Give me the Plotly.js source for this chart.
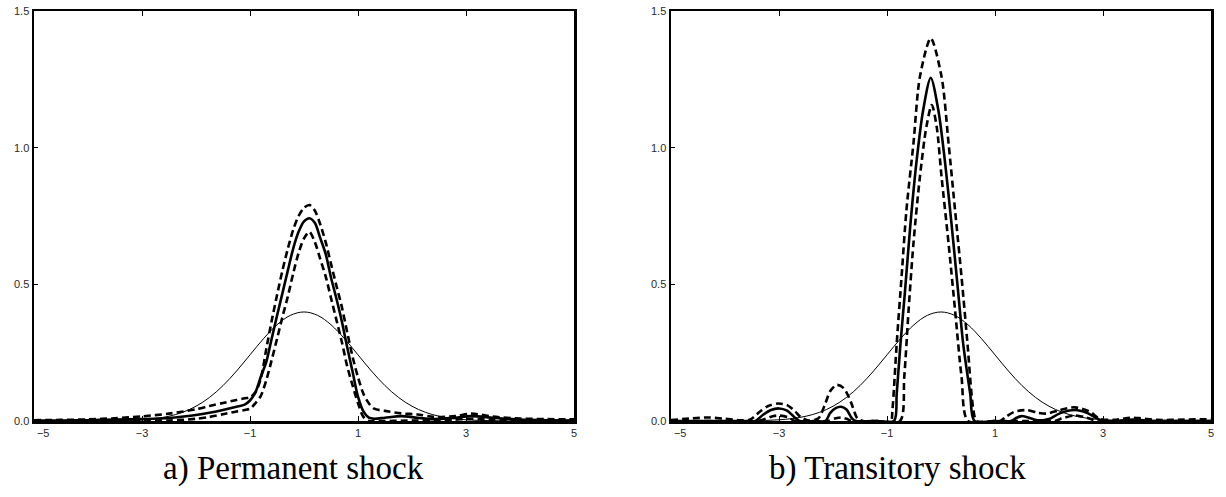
<!DOCTYPE html>
<html>
<head>
<meta charset="utf-8">
<script src="https://cdn.plot.ly/plotly-3.0.1.min.js"></script>
<style>
  html, body { margin: 0; padding: 0; background: #fff; }
  #chart { width: 1226px; height: 497px; }
</style>
</head>
<body>
<div id="chart"></div>
<script>
// ---------- data ----------
// thin reference curve (standard normal density), same in both panels
const normX = [-5, -4.5, -4, -3.75, -3.5, -3.25, -3, -2.75, -2.5, -2.25, -2, -1.75, -1.5, -1.25, -1, -0.75, -0.5, -0.25, 0, 0.25, 0.5, 0.75, 1, 1.25, 1.5, 1.75, 2, 2.25, 2.5, 2.75, 3, 3.25, 3.5, 3.75, 4, 4.5, 5];
const normY = [0.0000, 0.0000, 0.0001, 0.0004, 0.0009, 0.0020, 0.0044, 0.0091, 0.0175, 0.0317, 0.0540, 0.0863, 0.1295, 0.1826, 0.2420, 0.3011, 0.3521, 0.3867, 0.3989, 0.3867, 0.3521, 0.3011, 0.2420, 0.1826, 0.1295, 0.0863, 0.0540, 0.0317, 0.0175, 0.0091, 0.0044, 0.0020, 0.0009, 0.0004, 0.0001, 0.0000, 0.0000];

// a) Permanent shock
const permX = [-5, -4.5, -4, -3.5, -3, -2.5, -2, -1.75, -1.5, -1.25, -1.1, -1.0, -0.9, -0.8, -0.7, -0.6, -0.5, -0.4, -0.3, -0.2, -0.1, 0, 0.1, 0.2, 0.3, 0.4, 0.5, 0.6, 0.7, 0.8, 0.9, 1.0, 1.1, 1.2, 1.3, 1.5, 1.8, 2.1, 2.4, 2.8, 3.1, 3.5, 4, 4.5, 5];
const permMid = [0.002, 0.002, 0.003, 0.005, 0.007, 0.011, 0.022, 0.030, 0.040, 0.052, 0.060, 0.075, 0.105, 0.162, 0.215, 0.300, 0.385, 0.467, 0.550, 0.631, 0.692, 0.730, 0.742, 0.725, 0.670, 0.612, 0.525, 0.448, 0.365, 0.270, 0.180, 0.089, 0.035, 0.012, 0.008, 0.012, 0.018, 0.012, 0.007, 0.012, 0.018, 0.012, 0.005, 0.003, 0.002];
const permHigh = [0.003, 0.004, 0.006, 0.010, 0.017, 0.027, 0.043, 0.055, 0.066, 0.077, 0.083, 0.087, 0.105, 0.155, 0.262, 0.365, 0.460, 0.550, 0.630, 0.700, 0.750, 0.780, 0.790, 0.770, 0.720, 0.655, 0.575, 0.495, 0.418, 0.325, 0.235, 0.160, 0.100, 0.065, 0.045, 0.037, 0.028, 0.024, 0.015, 0.018, 0.027, 0.016, 0.009, 0.007, 0.006];
const permLow = [0.000, 0.000, 0.000, 0.000, 0.001, 0.002, 0.008, 0.015, 0.025, 0.035, 0.040, 0.045, 0.065, 0.092, 0.148, 0.222, 0.300, 0.380, 0.455, 0.540, 0.615, 0.668, 0.692, 0.655, 0.593, 0.530, 0.450, 0.370, 0.290, 0.200, 0.130, 0.065, 0.015, 0.000, 0.000, 0.000, 0.001, 0.002, 0.002, 0.005, 0.008, 0.004, 0.001, 0.000, 0.000];

// b) Transitory shock
const transMidX = [-5, -4, -3.6, -3.44, -3.3, -3.15, -3.0, -2.85, -2.72, -2.62, -2.3, -2.14, -2.05, -1.95, -1.85, -1.75, -1.65, -1.58, -1.2, -0.87, -0.82, -0.75, -0.67, -0.57, -0.45, -0.33, -0.19, -0.05, 0.07, 0.2, 0.32, 0.41, 0.54, 0.62, 1.0, 1.3, 1.4, 1.49, 1.6, 1.78, 1.9, 2.0, 2.2, 2.48, 2.7, 2.94, 3.2, 3.56, 3.9, 4.5, 5];
const transMid = [0, 0, 0, 0, 0.022, 0.040, 0.046, 0.038, 0.015, 0, 0, 0, 0.030, 0.047, 0.052, 0.042, 0.010, 0, 0, 0, 0.101, 0.284, 0.467, 0.711, 0.955, 1.138, 1.256, 1.138, 0.955, 0.711, 0.467, 0.284, 0.101, 0, 0, 0, 0.012, 0.018, 0.014, 0.003, 0.003, 0.007, 0.028, 0.040, 0.030, 0.005, 0, 0.005, 0, 0, 0];
const transHighX = [-5, -4.6, -4.3, -4.0, -3.7, -3.54, -3.35, -3.2, -3.01, -2.85, -2.7, -2.6, -2.45, -2.27, -2.15, -2.05, -1.93, -1.8, -1.67, -1.55, -1.45, -1.2, -0.93, -0.9, -0.82, -0.73, -0.64, -0.51, -0.39, -0.19, 0.01, 0.14, 0.26, 0.38, 0.49, 0.6, 0.66, 1.0, 1.1, 1.2, 1.35, 1.59, 1.8, 1.96, 2.2, 2.48, 2.75, 2.94, 3.2, 3.5, 3.7, 4.0, 4.5, 5];
const transHigh = [0.003, 0.010, 0.013, 0.008, 0.003, 0.005, 0.035, 0.055, 0.064, 0.058, 0.035, 0.015, 0.002, 0.010, 0.060, 0.110, 0.132, 0.120, 0.070, 0.010, 0, 0, 0, 0.040, 0.284, 0.528, 0.772, 1.016, 1.260, 1.400, 1.260, 1.016, 0.772, 0.528, 0.284, 0.040, 0, 0, 0, 0.015, 0.033, 0.040, 0.030, 0.027, 0.040, 0.050, 0.035, 0.008, 0.004, 0.012, 0.010, 0.004, 0.005, 0.007];
const transLowX = [-5, -4, -3.4, -3.3, -3.1, -3.0, -2.85, -2.7, -2.3, -2.1, -1.95, -1.85, -1.75, -1.65, -1.2, -0.76, -0.68, -0.6, -0.51, -0.39, -0.27, -0.17, -0.08, 0.01, 0.14, 0.26, 0.38, 0.5, 1.0, 1.8, 2.1, 2.25, 2.48, 2.7, 2.9, 3.5, 4.5, 5];
const transLow = [0, 0, 0, 0.005, 0.018, 0.020, 0.015, 0, 0, 0, 0.010, 0.013, 0.008, 0, 0, 0, 0.162, 0.406, 0.650, 0.894, 1.077, 1.156, 1.077, 0.894, 0.650, 0.406, 0.162, 0, 0, 0, 0, 0.010, 0.020, 0.012, 0, 0, 0, 0];

// axis ticks (the first x label sits a little right of its tick in the reference)
const xTicks = [-5, -3, -1, 1, 3, 5];
const xTickText = ['\u2007\u2007\u2007\u22125', '\u22123', '\u22121', '1', '3', '5'];
const yTicks = [0, 0.5, 1.0, 1.5];
const yTickText = ['0.0', '0.5', '1.0', '1.5'];
const panelTitles = ['a) Permanent shock', 'b) Transitory shock'];

// ---------- styles ----------
const thin = {color: '#000', width: 1, shape: 'spline', smoothing: 1};
const thick = {color: '#000', width: 2.6, shape: 'spline', smoothing: 0.8};
const dashed = {color: '#000', width: 2.6, shape: 'spline', smoothing: 0.8, dash: '7px,4px'};

function tr(x, y, line, ax) {
  return {x: x, y: y, type: 'scatter', mode: 'lines', line: line,
          xaxis: ax[0], yaxis: ax[1], hoverinfo: 'skip', showlegend: false};
}

const data = [
  tr(normX, normY, thin, ['x', 'y']),
  tr(permX, permHigh, dashed, ['x', 'y']),
  tr(permX, permLow, dashed, ['x', 'y']),
  tr(permX, permMid, thick, ['x', 'y']),
  tr(normX, normY, thin, ['x2', 'y2']),
  tr(transHighX, transHigh, dashed, ['x2', 'y2']),
  tr(transLowX, transLow, dashed, ['x2', 'y2']),
  tr(transMidX, transMid, thick, ['x2', 'y2'])
];

const W = 1226;
const tickFont = {family: 'Liberation Sans, Arial, sans-serif', size: 11, color: '#2a2a2a'};
function xa(domain) {
  return {
    domain: domain, range: [-5, 5], tickmode: 'array', tickvals: xTicks, ticktext: xTickText,
    ticks: 'inside', ticklen: 5, tickwidth: 1, tickcolor: '#000',
    showline: true, linewidth: 2.5, linecolor: '#000', mirror: 'ticks',
    showgrid: false, zeroline: false, fixedrange: true, tickfont: tickFont
  };
}
function ya(anchor) {
  return {
    anchor: anchor, domain: [0, 1], range: [0, 1.5], tickmode: 'array',
    tickvals: yTicks, ticktext: yTickText,
    ticks: 'inside', ticklen: 4, tickwidth: 1, tickcolor: '#000',
    showline: true, linewidth: 2.5, linecolor: '#000', mirror: true,
    showgrid: false, zeroline: false, fixedrange: true, tickfont: tickFont
  };
}

const xa1 = xa([34 / W, 574 / W]); xa1.anchor = 'y';
const xa2 = xa([671 / W, 1211 / W]); xa2.anchor = 'y2';

const titleFont = {family: 'Liberation Serif, Times New Roman, serif', size: 33, color: '#000'};
const layout = {
  width: 1226, height: 497,
  margin: {l: 0, r: 0, t: 11, b: 76},
  paper_bgcolor: '#fff', plot_bgcolor: '#fff',
  showlegend: false,
  xaxis: xa1, yaxis: ya('x'),
  xaxis2: xa2, yaxis2: ya('x2'),
  annotations: [
    {text: panelTitles[0], xref: 'paper', yref: 'paper', x: 293 / W, y: -0.117,
     xanchor: 'center', yanchor: 'middle', showarrow: false, font: titleFont},
    {text: panelTitles[1], xref: 'paper', yref: 'paper', x: 897 / W, y: -0.117,
     xanchor: 'center', yanchor: 'middle', showarrow: false, font: titleFont}
  ]
};

Plotly.newPlot('chart', data, layout, {staticPlot: true, displayModeBar: false});
</script>
</body>
</html>
